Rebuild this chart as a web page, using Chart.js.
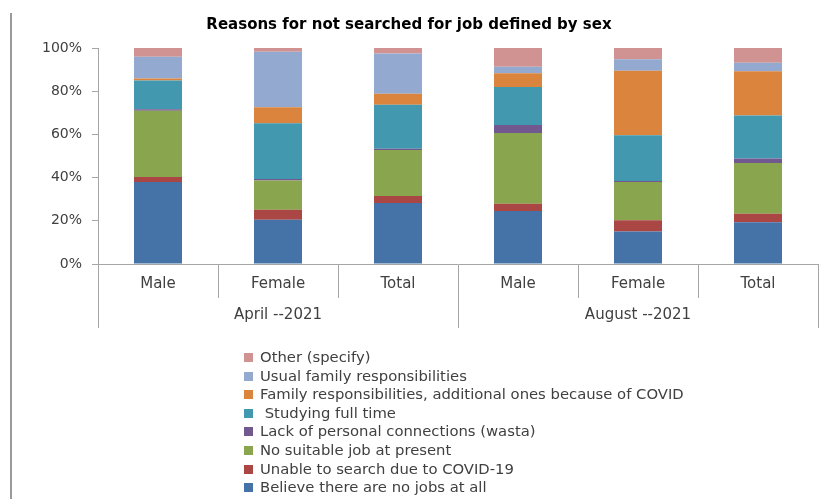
<!DOCTYPE html>
<html>
<head>
<meta charset="utf-8">
<script src="https://cdn.jsdelivr.net/npm/chart.js@4/dist/chart.umd.min.js"></script>
<style>
  html, body { margin: 0; padding: 0; background: #fff; }
  #wrap { position: relative; width: 829px; height: 499px; }
  #frame { position: absolute; left: 10px; top: 13px; height: 486px; border-left: 2px solid #9a9a9a; }
  #legend { position: absolute; left: 244px; top: 348px; margin: 0; padding: 0; list-style: none;
    font: 14.8px "DejaVu Sans", sans-serif; color: #404040; }
  #legend li { height: 18.6px; line-height: 18.6px; white-space: pre; }
  #legend span { display: inline-block; width: 9px; height: 9px; margin-right: 7px; vertical-align: 0px; }
</style>
</head>
<body>
<div id="wrap">
  <canvas id="chart" width="829" height="499"></canvas>
  <div id="frame"></div>
  <ul id="legend"></ul>
</div>
<script>
const categories = ["Male", "Female", "Total", "Male", "Female", "Total"];
const periods = ["April --2021", "August --2021"];
const yTicks = [0, 20, 40, 60, 80, 100];

// shares in %, bottom to top of each bar
const noJobs = [38.0, 20.5, 28.2, 24.5, 15.1, 19.3];
const unableCovid = [2.3, 4.6, 3.3, 3.4, 5.1, 4.0];
const noSuitable = [30.6, 13.6, 21.3, 32.7, 17.8, 23.5];
const wasta = [0.7, 0.7, 0.5, 3.7, 0.4, 2.0];
const studying = [13.4, 25.8, 20.4, 17.6, 21.2, 20.0];
const familyCovid = [0.9, 7.4, 5.1, 6.4, 29.9, 20.4];
const usualFamily = [10.1, 25.7, 18.7, 3.0, 5.3, 4.0];
const other = [4.0, 1.7, 2.5, 8.7, 5.2, 6.8];

const series = [
  { label: "Believe there are no jobs at all", data: noJobs, color: "#4572A7" },
  { label: "Unable to search due to COVID-19", data: unableCovid, color: "#AA4643" },
  { label: "No suitable job at present", data: noSuitable, color: "#89A54E" },
  { label: "Lack of personal connections (wasta)", data: wasta, color: "#71588F" },
  { label: " Studying full time", data: studying, color: "#4198AF" },
  { label: "Family responsibilities, additional ones because of COVID", data: familyCovid, color: "#DB843D" },
  { label: "Usual family responsibilities", data: usualFamily, color: "#93A9CF" },
  { label: "Other (specify)", data: other, color: "#D19392" },
];

const axisGrey = "#a6a6a6";
const axisFont = { family: "DejaVu Sans", size: 14 };

const config = {
  type: "bar",
  data: {
    labels: categories,
    datasets: series.map(s => ({
      label: s.label,
      data: s.data,
      backgroundColor: s.color,
      borderWidth: 0,
      categoryPercentage: 0.8,
      barPercentage: 0.5,
    })),
  },
  options: {
    responsive: false,
    animation: false,
    layout: { padding: { left: 0, right: 11, top: 0, bottom: 171 } },
    plugins: {
      legend: { display: false },
      tooltip: { enabled: false },
      title: {
        display: true,
        text: "Reasons for not searched for job defined by sex",
        color: "#000",
        font: { family: "DejaVu Sans", size: 15, weight: "bold" },
        padding: { top: 16, bottom: 14 },
      },
    },
    scales: {
      x: {
        stacked: true,
        offset: true,
        grid: { offset: true, drawOnChartArea: false, drawTicks: true, tickLength: 34, color: axisGrey },
        border: { color: axisGrey },
        ticks: { color: "#404040", font: { family: "DejaVu Sans", size: 15 }, padding: -23, maxRotation: 0 },
        afterFit: scale => { scale.height = 34; },
      },
      x2: {
        type: "category",
        position: "bottom",
        labels: periods,
        offset: true,
        grid: { offset: true, drawOnChartArea: false, drawTicks: true, tickLength: 30, color: axisGrey },
        border: { display: false },
        ticks: { color: "#404040", font: { family: "DejaVu Sans", size: 15 }, padding: -22, maxRotation: 0 },
        afterFit: scale => { scale.height = 30; },
      },
      y: {
        stacked: true,
        min: 0,
        max: 100,
        afterBuildTicks: scale => { scale.ticks = yTicks.map(v => ({ value: v })); },
        grid: { drawOnChartArea: false, drawTicks: true, tickLength: 6, color: axisGrey },
        border: { color: axisGrey },
        ticks: { color: "#404040", font: axisFont, padding: 10, callback: v => v + "%" },
        afterFit: scale => { scale.width = 98; },
      },
    },
  },
};

const chart = new Chart(document.getElementById("chart"), config);

const legend = document.getElementById("legend");
series.slice().reverse().forEach(s => {
  const li = document.createElement("li");
  const box = document.createElement("span");
  box.style.background = s.color;
  li.appendChild(box);
  li.appendChild(document.createTextNode(s.label));
  legend.appendChild(li);
});
</script>
</body>
</html>
